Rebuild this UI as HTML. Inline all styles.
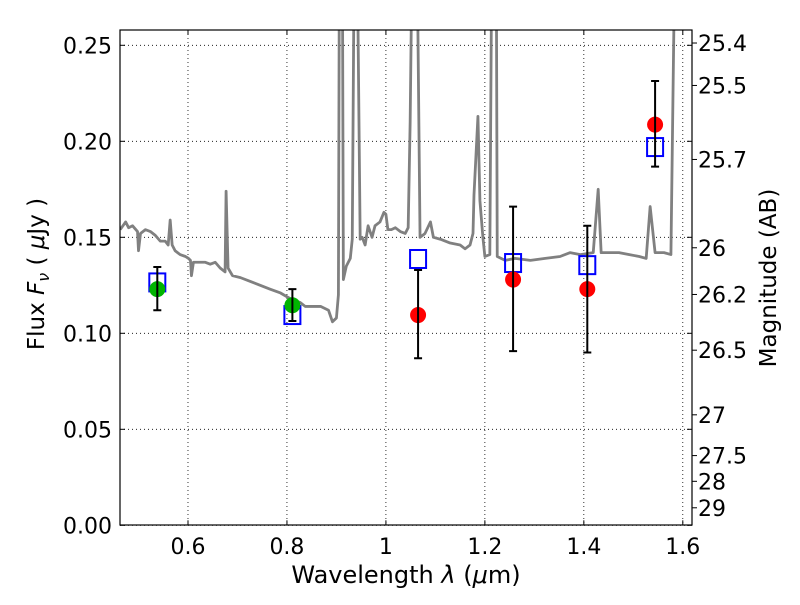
<!DOCTYPE html>
<html><head><meta charset="utf-8"><style>
html,body{margin:0;padding:0;background:#fff;}
svg text{font-family:"DejaVu Sans","Liberation Sans",sans-serif;}
</style></head><body>
<svg id="chart" width="800" height="600" xmlns="http://www.w3.org/2000/svg">
<defs><clipPath id="clip"><rect x="120" y="30" width="572" height="495"/></clipPath></defs>
<g id="grid"></g>
<g id="spec" clip-path="url(#clip)"></g>
<g id="marks"></g>
<rect x="120" y="30" width="572" height="495" fill="none" stroke="#000" stroke-width="1.2"/>
<g id="axes"></g>
<text x="406" y="583" font-size="24" text-anchor="middle">Wavelength  <tspan font-style="italic">λ</tspan> (<tspan font-style="italic">μ</tspan>m)</text>
<text transform="translate(44,274) rotate(-90)" font-size="23" text-anchor="middle">Flux  <tspan font-style="italic">F</tspan><tspan font-style="italic" font-size="16" dy="5">ν</tspan><tspan dy="-5">  ( </tspan><tspan font-style="italic">μ</tspan>Jy )</text>
<text transform="translate(776,278) rotate(-90)" font-size="23" text-anchor="middle">Magnitude (AB)</text>
</svg>
<script>
const xTicks=[0.6,0.8,1.0,1.2,1.4,1.6];
const xTickLabels=["0.6","0.8","1","1.2","1.4","1.6"];
const yTicks=[0,0.05,0.10,0.15,0.20,0.25];
const yTickLabels=["0.00","0.05","0.10","0.15","0.20","0.25"];
const magTicks=[25.4,25.5,25.7,26,26.2,26.5,27,27.5,28,29];
const magTickLabels=["25.4","25.5","25.7","26","26.2","26.5","27","27.5","28","29"];
const specWave=[0.463,0.474,0.480,0.488,0.498,0.500,0.504,0.514,0.524,0.534,0.544,0.554,0.560,0.564,0.568,0.574,0.584,0.595,0.601,0.605,0.607,0.611,0.625,0.635,0.645,0.655,0.665,0.675,0.677,0.681,0.690,0.706,0.726,0.746,0.766,0.787,0.807,0.827,0.837,0.847,0.868,0.884,0.892,0.900,0.904,0.906,0.912,0.914,0.920,0.928,0.932,0.936,0.942,0.948,0.952,0.958,0.964,0.972,0.978,0.988,0.996,1.000,1.004,1.011,1.019,1.029,1.039,1.045,1.049,1.053,1.063,1.069,1.079,1.090,1.096,1.110,1.130,1.150,1.160,1.170,1.176,1.178,1.186,1.190,1.196,1.200,1.210,1.214,1.223,1.225,1.241,1.261,1.292,1.322,1.352,1.372,1.393,1.419,1.429,1.435,1.451,1.471,1.492,1.512,1.526,1.534,1.544,1.562,1.576,1.584];
const specFlux=[0.154,0.158,0.155,0.156,0.153,0.143,0.152,0.154,0.153,0.151,0.148,0.148,0.146,0.159,0.146,0.143,0.141,0.140,0.139,0.138,0.130,0.137,0.137,0.137,0.136,0.137,0.134,0.132,0.174,0.134,0.130,0.129,0.127,0.125,0.123,0.121,0.118,0.116,0.114,0.114,0.114,0.112,0.106,0.108,0.120,0.3,0.3,0.128,0.135,0.139,0.149,0.3,0.3,0.149,0.150,0.146,0.156,0.150,0.156,0.158,0.163,0.162,0.154,0.154,0.155,0.153,0.152,0.155,0.21,0.3,0.3,0.150,0.152,0.158,0.150,0.149,0.147,0.146,0.144,0.146,0.152,0.172,0.213,0.169,0.150,0.140,0.141,0.3,0.3,0.140,0.138,0.139,0.138,0.139,0.140,0.142,0.141,0.142,0.175,0.142,0.142,0.142,0.141,0.140,0.139,0.166,0.142,0.142,0.141,0.3];
const obsWave=[0.538,0.811,1.065,1.257,1.407,1.544];
const obsFlux=[0.123,0.1146,0.1095,0.128,0.123,0.2087];
const obsErrHi=[0.1345,0.123,0.133,0.166,0.156,0.2314];
const obsErrLo=[0.112,0.1064,0.087,0.0907,0.090,0.1868];
const obsColor=["#00b400","#00b400","#ff0000","#ff0000","#ff0000","#ff0000"];
const modelWave=[0.538,0.811,1.065,1.257,1.407,1.544];
const modelFlux=[0.1265,0.1095,0.1387,0.1366,0.1355,0.197];

const X0=0.4626,X1=1.6186,PL=120,PR=692,PT=30,PB=525.3;
const sx=v=>PL+(v-X0)/(X1-X0)*(PR-PL);
const sy=v=>PB-v*1920;
const NS='http://www.w3.org/2000/svg';
function mk(tag,attrs,parent){const e=document.createElementNS(NS,tag);for(const k in attrs)e.setAttribute(k,attrs[k]);parent.appendChild(e);return e;}
const grid=document.getElementById('grid'),axes=document.getElementById('axes'),spec=document.getElementById('spec'),marks=document.getElementById('marks');
xTicks.forEach((t,i)=>{const x=sx(t);
 const g=mk('line',{x1:x,x2:x,y1:PT,y2:PB,stroke:'#000','stroke-width':0.8,'stroke-dasharray':'1,3'},grid);
 
 mk('line',{x1:x,x2:x,y1:PB,y2:PB-5,stroke:'#000'},axes);
 mk('line',{x1:x,x2:x,y1:PT,y2:PT+5,stroke:'#000'},axes);
 const tx=mk('text',{x:x,y:554,'font-size':22,'text-anchor':'middle'},axes);tx.textContent=xTickLabels[i];
 
});
yTicks.forEach((t,i)=>{const y=sy(t);
 const g=mk('line',{x1:PL,x2:PR,y1:y,y2:y,stroke:'#000','stroke-width':0.8,'stroke-dasharray':'1,3'},grid);
 
 mk('line',{x1:PL,x2:PL+5,y1:y,y2:y,stroke:'#000'},axes);
 mk('line',{x1:PR,x2:PR-5,y1:y,y2:y,stroke:'#000'},axes);
 const tx=mk('text',{x:112,y:y+8,'font-size':22,'text-anchor':'end'},axes);tx.textContent=yTickLabels[i];
 
});
magTicks.forEach((m,i)=>{const y=sy(Math.pow(10,(23.9-m)/2.5));
 mk('line',{x1:PR,x2:PR+5,y1:y,y2:y,stroke:'#000'},axes);
 const tx=mk('text',{x:698,y:y+8,'font-size':22,'text-anchor':'start'},axes);tx.textContent=magTickLabels[i];
 
});
const p=mk('polyline',{points:specWave.map((w,i)=>sx(w)+','+sy(specFlux[i])).join(' '),fill:'none',stroke:'#808080','stroke-width':2.8,'stroke-linejoin':'round'},spec);

modelWave.forEach((w,i)=>{const r=mk('rect',{x:sx(w)-8,y:sy(modelFlux[i])-9,width:16,height:18,fill:'none',stroke:'#0000ff','stroke-width':2},marks);
 });
obsWave.forEach((w,i)=>{const x=sx(w);
 const c=mk('circle',{cx:x,cy:sy(obsFlux[i]),r:8,fill:obsColor[i]},marks);
 
 const e=mk('path',{d:`M${x},${sy(obsErrHi[i])}V${sy(obsErrLo[i])}M${x-4},${sy(obsErrHi[i])}H${x+4}M${x-4},${sy(obsErrLo[i])}H${x+4}`,stroke:'#000','stroke-width':2,fill:'none'},marks);
 
});
</script>
</body></html>
